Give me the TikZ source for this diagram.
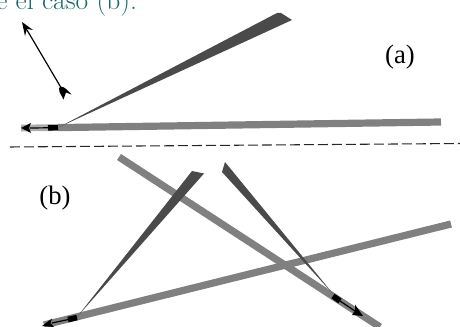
\documentclass[tikz,border=0pt]{standalone}
\usepackage{fontspec}
\setmainfont{Liberation Serif}
\newfontfamily\cmfont{Latin Modern Roman}
\definecolor{bargray}{gray}{0.5}
\definecolor{wedgegray}{gray}{0.29}
\definecolor{fadegray}{gray}{0.68}
\definecolor{tealtext}{HTML}{1A6666}
\tikzset{
  bar/.style={draw=bargray,line width=5.4pt},
  fade/.style={draw=fadegray,line width=5pt},
  wedge/.style={fill=wedgegray,draw=none},
  block/.style={draw=black,line width=4.2pt},
  shaft/.style={draw=black,line width=0.9pt},
  headfill/.style={fill=black,draw=none},
  lab/.style={font=\fontsize{20}{22}\selectfont,inner sep=0pt}
}
\begin{document}
\begin{tikzpicture}[x=0.75pt,y=-0.75pt]
\useasboundingbox (0,0) rectangle (460,327);
\begin{scope}
\clip (0,0) rectangle (460,327);
\node[anchor=base west,inner sep=0pt,text=tealtext,font=\cmfont\fontsize{20.6}{22}\selectfont] (cap) at (-4,9.5) {e el caso (b).};
% (a)
\coordinate (a0) at (58,127.6);
\coordinate (a1) at (441,122);
\coordinate (atip) at (21,128);
\draw[fade] (atip) -- (a0);
\draw[bar] (a0) -- (a1);
\fill[wedge] (a0) -- (277,13) -- (281,13) -- (292,20) -- cycle;
\draw[block] (48,127.8) -- (a0);
\draw[shaft] (30,128) -- (48,127.8);
\fill[headfill] (atip) -- (31,123) -- (29,128) -- (31,133) -- cycle;
% free arrow
\coordinate (ft) at (22,22);
\coordinate (fb) at (63,91);
\draw[shaft] (27,30) -- (fb);
\fill[headfill] (ft) -- (33,30) -- (27,29) -- (25,36) -- cycle;
\fill[headfill] (59,88) .. controls (61,85) and (65,87) .. (71.5,94.5) -- (66,92.5) -- (63.5,99.5) -- (59.5,92) -- cycle;
% dashed
\coordinate (d0) at (10,147);
\coordinate (d1) at (460,143.5);
\draw[black!85,line width=0.8pt,dash pattern=on 7.5pt off 3pt] (d0) -- (d1);
\node[lab] (la) at (400,57) {(a)};
\node[lab] (lb) at (55,198) {(b)};
% (b) bars
\coordinate (c0) at (119,157);
\coordinate (c1) at (380,327);
\coordinate (e0) at (44,325);
\coordinate (e1) at (451,224);
\draw[bar] (c0) -- (c1);
\draw[bar] (e0) -- (e1);
\fill[wedge] (77,317) -- (192,171) -- (204,173.5) -- cycle;
\fill[wedge] (334,295) -- (222,172) -- (225,162) -- cycle;
% arrow on e
\draw[block] (68,319.6) -- (77,317.5);
\draw[shaft] (52,323) -- (68,319.6);
\fill[headfill] (42,326) -- (52,318.5) -- (50.5,323) -- (54,327) -- cycle;
% arrow on c
\draw[block] (333,296) -- (340,301);
\draw[shaft] (340,301) -- (355,311);
\fill[headfill] (363,316) -- (352,315) -- (355,310.5) -- (355,304.5) -- cycle;
\end{scope}
\end{tikzpicture}
\end{document}
